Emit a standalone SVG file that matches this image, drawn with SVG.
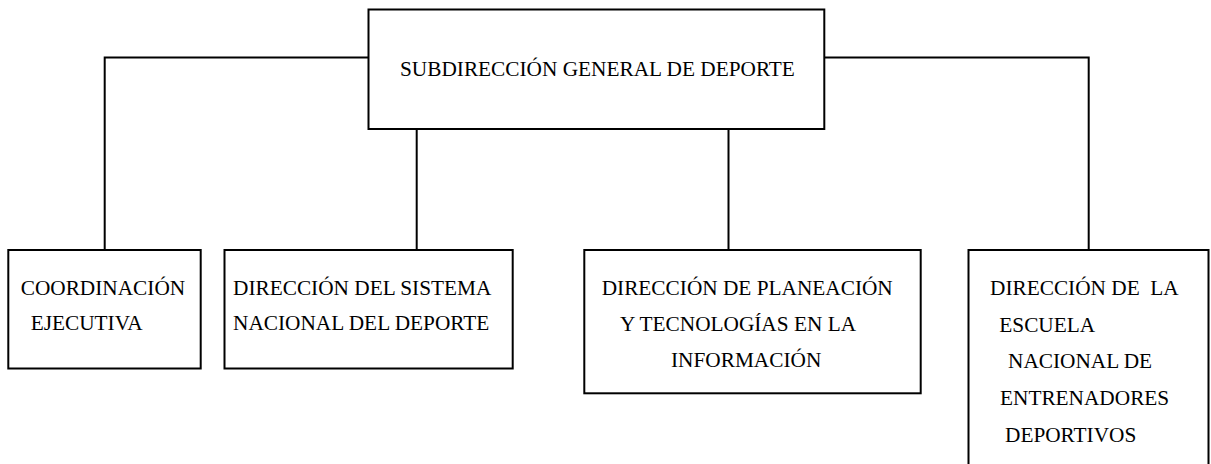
<svg xmlns="http://www.w3.org/2000/svg" width="1211" height="464" viewBox="0 0 1211 464">
<style>
.box{fill:#fff;stroke:#000;stroke-width:2}
.conn{fill:none;stroke:#000;stroke-width:2}
text{font-family:"Liberation Serif","Times New Roman",serif;font-size:21.3px;fill:#000;white-space:pre}
</style>
<rect width="1211" height="464" fill="#fff"/>
<g id="connectors">
<path class="conn" d="M368.5,57.5 H104.7 V250"/>
<path class="conn" d="M824.3,57.5 H1088.7 V250"/>
<path class="conn" d="M416.7,129 V250"/>
<path class="conn" d="M728.5,129 V250"/>
</g>
<g id="n0">
<rect class="box" x="368.5" y="9.5" width="455.8" height="119.5"/>
<text x="400" y="76">SUBDIRECCIÓN GENERAL DE DEPORTE</text>
</g>
<g id="n1">
<rect class="box" x="8.3" y="250" width="192.4" height="118.5"/>
<text x="20.7" y="294.5">COORDINACIÓN</text>
<text x="30.7" y="330">EJECUTIVA</text>
</g>
<g id="n2">
<rect class="box" x="224.5" y="250" width="288.2" height="118.5"/>
<text x="233" y="294.5">DIRECCIÓN DEL SISTEMA</text>
<text x="233" y="330">NACIONAL DEL DEPORTE</text>
</g>
<g id="n3">
<rect class="box" x="584.3" y="250" width="336.4" height="143.3"/>
<text x="601.7" y="295">DIRECCIÓN DE PLANEACIÓN</text>
<text x="620" y="331">Y TECNOLOGÍAS EN LA</text>
<text x="671" y="367">INFORMACIÓN</text>
</g>
<g id="n4">
<rect class="box" x="968.5" y="250" width="240" height="230"/>
<text x="990" y="295">DIRECCIÓN DE  LA</text>
<text x="999.3" y="331.5">ESCUELA</text>
<text x="1008" y="368">NACIONAL DE</text>
<text x="1000" y="405">ENTRENADORES</text>
<text x="1005" y="442">DEPORTIVOS</text>
</g>
</svg>
